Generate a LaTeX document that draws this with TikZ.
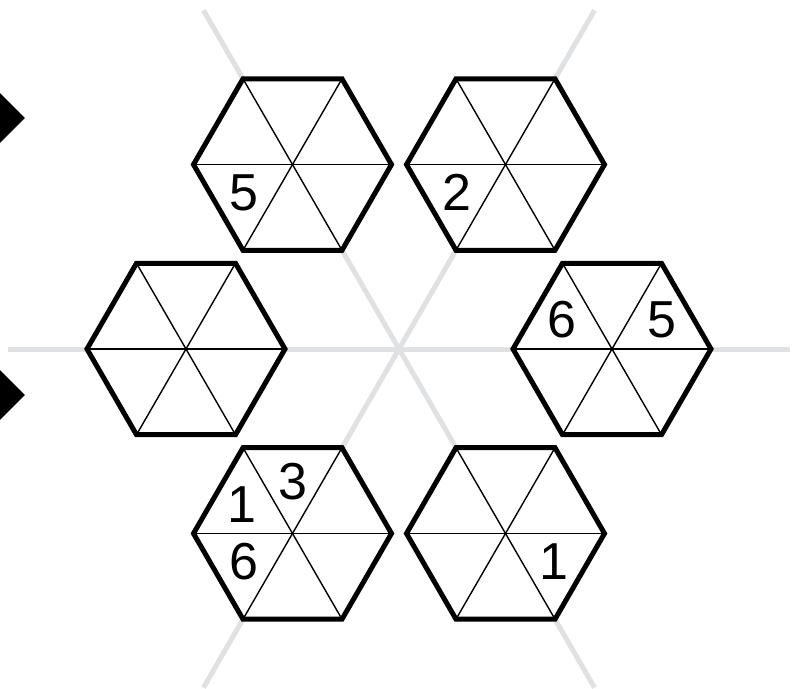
\documentclass[tikz,border=0pt]{standalone}
\usepackage{fontspec}
\setmainfont{Liberation Sans}
\definecolor{spoke}{RGB}{224,225,227}
\tikzset{
  spokeline/.style={draw=spoke,line width=5pt},
  hexborder/.style={draw=black,fill=white,line width=5pt,line join=miter},
  hexinner/.style={draw=black,line width=1.4pt},
  digit/.style={inner sep=0pt,font=\fontsize{52}{52}\selectfont},
  marker/.style={fill=black}
}
\begin{document}
\begin{tikzpicture}[x=1pt,y=1pt]
\useasboundingbox (-399,-339) rectangle (398,349);
\clip (-399,-339) rectangle (398,349);
\coordinate (C) at (0,0);
% spokes
\foreach \a in {0,60,...,300}{
  \coordinate (s\a) at (\a:391);
  \draw[spokeline] (C) -- (s\a);
}
% hexagons
\foreach \a in {0,60,...,300}{
  \coordinate (h\a) at (\a:213);
  \draw[hexborder] ([shift={(0:99)}]h\a) -- ([shift={(60:99)}]h\a) -- ([shift={(120:99)}]h\a)
     -- ([shift={(180:99)}]h\a) -- ([shift={(240:99)}]h\a) -- ([shift={(300:99)}]h\a) -- cycle;
  \foreach \b in {0,60,120}{
    \draw[hexinner] ([shift={(\b:97)}]h\a) -- ([shift={(\b+180:97)}]h\a);
  }
}
% digits
\node[digit] (r6) at ([shift={(150:58)}]h0) {6};
\node[digit] (r5) at ([shift={(30:58)}]h0) {5};
\node[digit] (tr2) at ([shift={(210:56)}]h60) {2};
\node[digit] (tl5) at ([shift={(210:56)}]h120) {5};
\node[digit] (bl1) at ([shift={(150:58)}]h240) {1};
\node[digit] (bl3) at ([shift={(90:52)}]h240) {3};
\node[digit] (bl6) at ([shift={(210:56)}]h240) {6};
\node[digit] (br1) at ([shift={(330:56)}]h300) {1};
% markers at left edge
\fill[marker] (-399,256) -- (-374,231) -- (-399,206) -- (-424,231) -- cycle;
\fill[marker] (-399,-21) -- (-374,-46) -- (-399,-71) -- (-424,-46) -- cycle;
\end{tikzpicture}
\end{document}
